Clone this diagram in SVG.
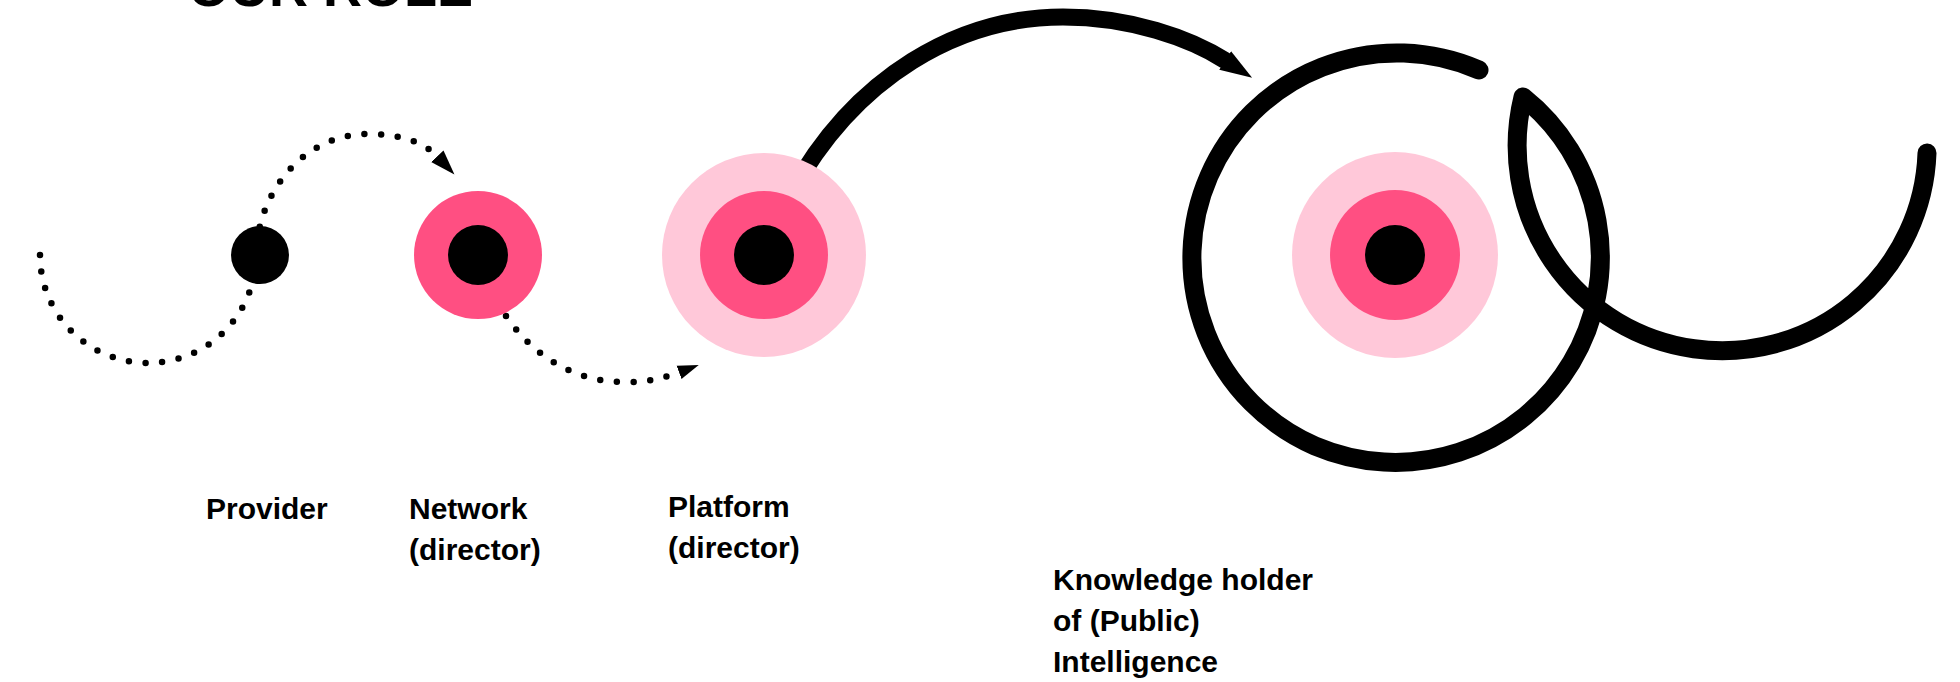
<svg xmlns="http://www.w3.org/2000/svg" width="1960" height="682" viewBox="0 0 1960 682">
  <style>
    .label { font-family: "Liberation Sans", Arial, sans-serif; font-weight: 700; font-size: 30px; fill: #000; }
    .title { font-family: "Liberation Sans", Arial, sans-serif; font-weight: 700; font-size: 54px; fill: #000; }
    .dotted { fill: none; stroke: #000; stroke-width: 6.5; stroke-linecap: round; stroke-dasharray: 0 16.7; }
    .solid { fill: none; stroke: #000; stroke-width: 17; }
    .loop { fill: none; stroke: #000; stroke-width: 19; stroke-linecap: round; stroke-linejoin: round; }
    .core { fill: #000; }
    .mid { fill: #FF4F82; }
    .halo { fill: #FFC8D9; }
  </style>
  <defs>
    <marker id="arrow-dot-lg" markerUnits="userSpaceOnUse" markerWidth="26" markerHeight="18" refX="1" refY="9" orient="auto" viewBox="0 0 26 18">
      <path d="M0,0.5 L25,9 L0,17.5 Z" fill="#000"/>
    </marker>
    <marker id="arrow-dot-sm" markerUnits="userSpaceOnUse" markerWidth="22" markerHeight="15" refX="1" refY="7.5" orient="auto" viewBox="0 0 22 15">
      <path d="M0,0.5 L21,7.5 L0,14.5 Z" fill="#000"/>
    </marker>
    <marker id="arrow-solid" markerUnits="userSpaceOnUse" markerWidth="34" markerHeight="24" refX="1" refY="12" orient="auto" viewBox="0 0 34 24">
      <path d="M0,1 L32,12 L0,23 Z" fill="#000"/>
    </marker>
  </defs>

  <g id="title">
    <text class="title" x="188" y="6">OUR ROLE</text>
  </g>

  <g id="connectors">
    <path class="dotted" d="M40 255 A108 108 0 0 0 256 255 C258 190 305 134 368 134 C395 134 422 140 438 157" marker-end="url(#arrow-dot-lg)"/>
    <path class="dotted" d="M506 316 C540 365 585 383 628 382 C648 382 664 378 680 372" marker-end="url(#arrow-dot-sm)"/>
    <path class="solid" d="M790 195 C855 75 960 17 1063 17 C1130 17 1190 38 1226 61" marker-end="url(#arrow-solid)"/>
  </g>

  <g id="provider">
    <circle class="core" cx="260" cy="255" r="29"/>
    <text class="label" x="206" y="519">Provider</text>
  </g>

  <g id="network">
    <circle class="mid" cx="478" cy="255" r="64"/>
    <circle class="core" cx="478" cy="255" r="30"/>
    <text class="label" x="409" y="519">Network</text>
    <text class="label" x="409" y="560">(director)</text>
  </g>

  <g id="platform">
    <circle class="halo" cx="764" cy="255" r="102"/>
    <circle class="mid" cx="764" cy="255" r="64"/>
    <circle class="core" cx="764" cy="255" r="30"/>
    <text class="label" x="668" y="517">Platform</text>
    <text class="label" x="668" y="558">(director)</text>
  </g>

  <g id="knowledge">
    <path class="loop" d="M1479 70 A205 205 0 1 0 1315 446 A205 205 0 0 0 1523 97 A205 205 0 1 0 1927 153"/>
    <circle class="halo" cx="1395" cy="255" r="103"/>
    <circle class="mid" cx="1395" cy="255" r="65"/>
    <circle class="core" cx="1395" cy="255" r="30"/>
    <text class="label" x="1053" y="590">Knowledge holder</text>
    <text class="label" x="1053" y="631">of (Public)</text>
    <text class="label" x="1053" y="672">Intelligence</text>
  </g>
</svg>
